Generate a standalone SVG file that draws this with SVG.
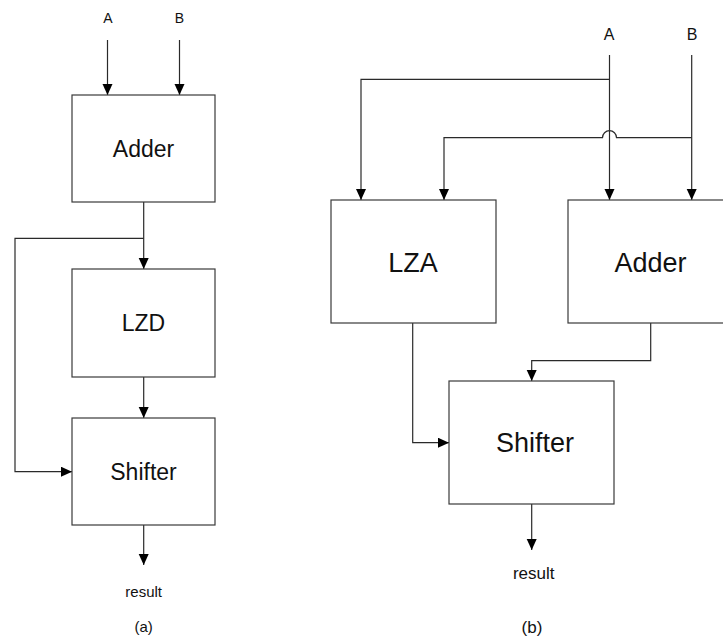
<svg xmlns="http://www.w3.org/2000/svg" width="723" height="641" viewBox="0 0 723 641">
<style>
.box{fill:#fff;stroke:#3a3a3a;stroke-width:1.2}
.ln{fill:none;stroke:#2a2a2a;stroke-width:1.2}
text{font-family:"Liberation Sans",Arial,sans-serif;fill:#111;text-anchor:middle}
.bl{font-size:23px}
.br{font-size:27px}
</style>
<defs>
<marker id="ah" markerUnits="userSpaceOnUse" markerWidth="12" markerHeight="11" refX="11" refY="5" orient="auto">
<path d="M0,0 L11,5 L0,10 Z" fill="#000"/>
</marker>
</defs>
<rect width="723" height="641" fill="#fff"/>
<g id="connectors">
<!-- (a) -->
<path class="ln" d="M107.5,40 V95" marker-end="url(#ah)"/>
<path class="ln" d="M179.5,40 V95" marker-end="url(#ah)"/>
<path class="ln" d="M143.7,202 V269" marker-end="url(#ah)"/>
<path class="ln" d="M143.7,238.3 H15 V471.7 H72" marker-end="url(#ah)"/>
<path class="ln" d="M143.7,377 V418" marker-end="url(#ah)"/>
<path class="ln" d="M143.7,525 V565" marker-end="url(#ah)"/>
<!-- (b) -->
<path class="ln" d="M609.5,55 V200" marker-end="url(#ah)"/>
<path class="ln" d="M691.7,55 V200" marker-end="url(#ah)"/>
<path class="ln" d="M609.5,79.3 H361 V200" marker-end="url(#ah)"/>
<path class="ln" d="M691.7,137.7 H616.5 A7,7 0 0 0 602.5,137.7 H444 V200" marker-end="url(#ah)"/>
<path class="ln" d="M412.7,323 V442.7 H449" marker-end="url(#ah)"/>
<path class="ln" d="M650.7,323 V360.7 H531.7 V381" marker-end="url(#ah)"/>
<path class="ln" d="M531.7,504 V550" marker-end="url(#ah)"/>
</g>
<g id="labels">
<text x="108" y="23" font-size="14">A</text>
<text x="179.5" y="23" font-size="14">B</text>
<text x="609" y="40" font-size="16">A</text>
<text x="692" y="40" font-size="16">B</text>
<text x="143.7" y="597" font-size="15">result</text>
<text x="143.7" y="632" font-size="15">(a)</text>
<text x="533.7" y="579" font-size="17">result</text>
<text x="532" y="633" font-size="17">(b)</text>
</g>
<g id="adder-a">
<rect class="box" x="72" y="95" width="143" height="107"/>
<text class="bl" x="143.5" y="156.5">Adder</text>
</g>
<g id="lzd-a">
<rect class="box" x="72" y="269" width="143" height="108"/>
<text class="bl" x="143.5" y="331">LZD</text>
</g>
<g id="shifter-a">
<rect class="box" x="72" y="418" width="143" height="107"/>
<text class="bl" x="143.5" y="480">Shifter</text>
</g>
<g id="lza-b">
<rect class="box" x="331" y="200" width="165" height="123"/>
<text class="br" x="413" y="271.5">LZA</text>
</g>
<g id="adder-b">
<rect class="box" x="568" y="200" width="170" height="123"/>
<text class="br" x="650.5" y="271.5">Adder</text>
</g>
<g id="shifter-b">
<rect class="box" x="449" y="381" width="165" height="123"/>
<text class="br" x="535" y="451.5">Shifter</text>
</g>
</svg>
